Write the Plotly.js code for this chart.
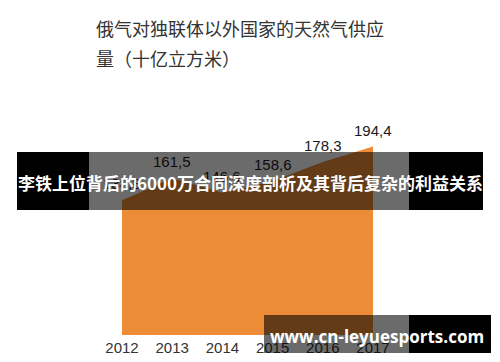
<!DOCTYPE html>
<html>
<head>
<meta charset="utf-8">
<script src="https://cdn.plot.ly/plotly-3.0.1.min.js"></script>
<style>html,body{margin:0;padding:0;background:#fff;}#chart{width:500px;height:362px;}</style>
</head>
<body>
<div id="chart"></div>
<script>
const years = [2012, 2013, 2014, 2015, 2016, 2017];
const supply = [138.8, 161.5, 146.6, 158.6, 178.3, 194.4];
const valueLabels = ['138,8', '161,5', '146,6', '158,6', '178,3', '194,4'];
const tickLabels = ['2012', '2013', '2014', '2015', '2016', '2017'];
const titleLine1 = '俄气对独联体以外国家的天然气供应';
const titleLine2 = '量（十亿立方米）';
const bannerText = '李铁上位背后的6000万合同深度剖析及其背后复杂的利益关系';
const watermarkText = 'www.cn-leyuesports.com';

// pixel helpers for overlay geometry (plot area: x 122..373, y 100..335)
const L = 122, W = 251, T = 100, H = 235;
const px = x => (x - L) / W;
const py = y => (T + H - y) / H;

const orange = 'rgb(236,140,55)';
const trace = {
  x: years,
  y: supply,
  type: 'scatter',
  mode: 'lines',
  fill: 'tozeroy',
  fillcolor: orange,
  line: {color: orange, width: 1},
  hoverinfo: 'skip'
};

const labelFont = {family: 'Liberation Sans Narrow, Arial Narrow, sans-serif', size: 15, color: '#1a1a1a'};
const valueAnnotations = years.map((yr, i) => ({
  x: yr, y: supply[i], xref: 'x', yref: 'y', text: valueLabels[i],
  showarrow: false, xanchor: 'center', yanchor: 'middle', yshift: 17, font: labelFont
}));

// overlay box drawn as an annotation so it sits above value labels
function box(x0, x1, y0, y1, color) {
  return {text: ' ', xref: 'paper', yref: 'paper', x: px((x0 + x1) / 2), y: py((y0 + y1) / 2),
    xanchor: 'center', yanchor: 'middle', width: x1 - x0, height: y1 - y0,
    bgcolor: color, borderpad: 0, borderwidth: 0, showarrow: false, font: {size: 1}};
}
const translucent = 'rgba(0,0,0,0.58)';

const layout = {
  width: 500, height: 362,
  margin: {l: L, r: 500 - L - W, t: T, b: 362 - T - H},
  paper_bgcolor: '#fff', plot_bgcolor: '#fff',
  showlegend: false,
  xaxis: {
    range: [2012, 2017], tickvals: years, ticktext: tickLabels,
    showgrid: false, zeroline: false, showline: false, ticks: '',
    ticklabelstandoff: 2,
    tickfont: {family: 'Liberation Sans Narrow, Arial Narrow, sans-serif', size: 15, color: '#333'},
    fixedrange: true
  },
  yaxis: {range: [0, 243], visible: false, fixedrange: true},
  annotations: [
    {text: titleLine1, xref: 'paper', yref: 'paper', x: px(94), y: py(28), xanchor: 'left', yanchor: 'middle', showarrow: false,
     font: {family: 'Noto Sans CJK SC, sans-serif', size: 18, color: '#333'}},
    {text: titleLine2, xref: 'paper', yref: 'paper', x: px(94), y: py(58), xanchor: 'left', yanchor: 'middle', showarrow: false,
     font: {family: 'Noto Sans CJK SC, sans-serif', size: 18, color: '#333'}},
    ...valueAnnotations,
    box(17, 89, 152, 210, '#000'),
    box(89, 409, 152, 210, translucent),
    box(409, 483, 152, 210, '#000'),
    box(264, 409, 315, 353, translucent),
    box(409, 491, 315, 353, '#000'),
    {text: '<b>' + bannerText + '</b>', xref: 'paper', yref: 'paper', x: px(250), y: py(182), xanchor: 'center', yanchor: 'middle', showarrow: false,
     font: {family: 'Noto Sans CJK SC, sans-serif', size: 17, color: '#fff'}},
    {text: '<b>' + watermarkText + '</b>', xref: 'paper', yref: 'paper', x: px(377), y: py(336), xanchor: 'center', yanchor: 'middle', showarrow: false,
     font: {family: 'Open Sans, DejaVu Sans, sans-serif', size: 17, color: '#fff'}}
  ]
};

Plotly.newPlot('chart', [trace], layout, {staticPlot: true, displayModeBar: false});
</script>
</body>
</html>
